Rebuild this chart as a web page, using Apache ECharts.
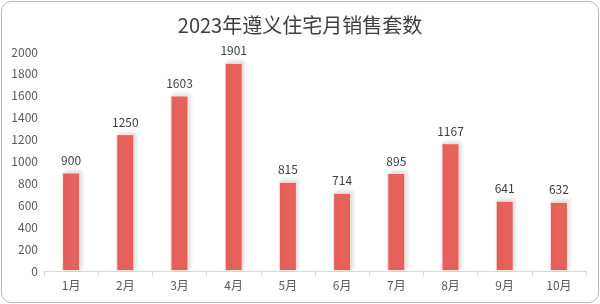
<!DOCTYPE html>
<html><head><meta charset="utf-8">
<script src="https://cdn.jsdelivr.net/npm/echarts@6/dist/echarts.min.js"></script>
<style>
html,body{margin:0;padding:0;background:#fff;}
#frame{position:absolute;left:1px;top:1px;width:596px;height:300px;border:1px solid #b8b8b8;border-radius:10px;box-sizing:content-box;}
#c{position:absolute;left:0;top:0;width:600px;height:304px;}
</style></head>
<body>
<div id="frame"></div>
<div id="c"></div>
<script>
const titleText = '2023年遵义住宅月销售套数';
const categories = ['1月','2月','3月','4月','5月','6月','7月','8月','9月','10月'];
const sales = [900, 1250, 1603, 1901, 815, 714, 895, 1167, 641, 632];
const yMin = 0, yMax = 2000, yStep = 200;

const chart = echarts.init(document.getElementById('c'), null, {renderer:'canvas'});
chart.setOption({
  animation:false,
  title:{text:titleText,left:'center',top:10,
    textStyle:{fontFamily:'Noto Sans CJK SC',fontSize:20,fontWeight:'normal',color:'#404040'}},
  grid:{left:44,right:14,top:52,bottom:33},
  xAxis:{type:'category',data:categories,
    axisLine:{lineStyle:{color:'#d9d9d9'}},
    axisTick:{show:true,lineStyle:{color:'#d9d9d9'}},
    axisLabel:{color:'#595959',fontSize:12,fontFamily:'Noto Sans CJK SC',margin:8}},
  yAxis:{type:'value',min:yMin,max:yMax,interval:yStep,
    splitLine:{show:false},axisLine:{show:false},axisTick:{show:false},
    axisLabel:{color:'#595959',fontSize:12,fontFamily:'Noto Sans CJK SC',margin:6,
      formatter:function(v){return String(v);}}},
  series:[{type:'bar',data:sales,barWidth:18,
    itemStyle:{color:'#e8625c',borderColor:'#fbe3e1',borderWidth:1,
      shadowColor:'rgba(0,0,0,0.12)',shadowBlur:4,shadowOffsetX:2,shadowOffsetY:-2},
    label:{show:true,position:'top',distance:6,color:'#404040',fontSize:12,fontFamily:'Noto Sans CJK SC'}}]
});
</script>
</body></html>
